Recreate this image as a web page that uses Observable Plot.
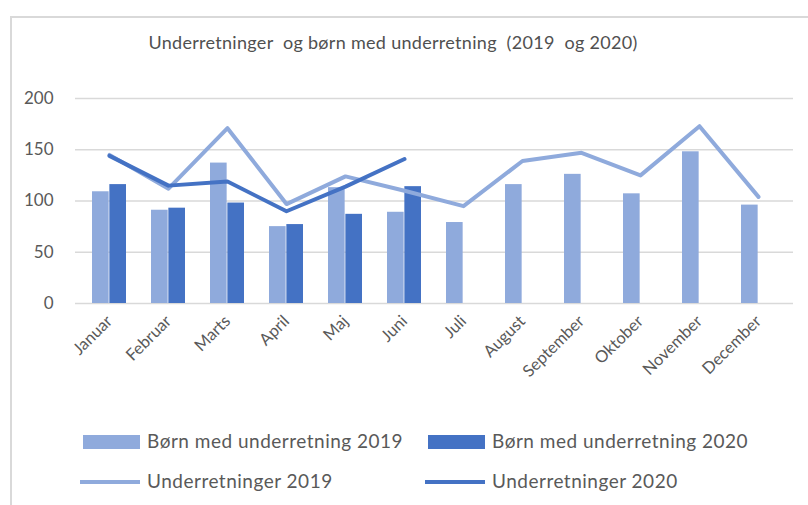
<!DOCTYPE html>
<html>
<head>
<meta charset="utf-8">
<script src="https://cdn.jsdelivr.net/npm/d3@7"></script>
<script src="https://cdn.jsdelivr.net/npm/@observablehq/plot@0.6"></script>
<style>
  body { margin: 0; background: #fff; }
  #wrap { position: relative; width: 808px; height: 505px; overflow: hidden; font-family: Lato, "Open Sans", sans-serif; color: #595959; }
  #frame { position: absolute; left: 10px; top: 16px; width: 820px; height: 520px; border-top: 2px solid #d9d9d9; border-left: 2px solid #d9d9d9; }
  #title { position: absolute; left: 0; width: 786px; top: 31px; text-align: center; font-size: 18px; letter-spacing: 0.3px; color: #505050; }
  #chart { position: absolute; left: 0; top: 0; }
  .leg { position: absolute; font-size: 19px; letter-spacing: 0.5px; line-height: 20px; white-space: nowrap; }
  .sw { position: absolute; }
</style>
</head>
<body>
<div id="wrap">
  <div id="frame"></div>
  <div id="title">Underretninger&nbsp; og børn med underretning&nbsp; (2019&nbsp; og 2020)</div>
  <div id="chart"></div>
  <div id="legend"></div>
</div>
<script>
const months = ["Januar","Februar","Marts","April","Maj","Juni","Juli","August","September","Oktober","November","December"];
const born2019 = [109, 91, 137, 75, 113, 89, 79, 116, 126, 107, 148, 96];
const born2020 = [116, 93, 98, 77, 87, 114];
const und2019 = [145, 112, 171, 97, 124, 110, 95, 139, 147, 125, 173, 104];
const und2020 = [144, 115, 119, 90, 114, 141];
const yTicks = [0, 50, 100, 150, 200];
const seriesNames = ["Børn med underretning 2019", "Børn med underretning 2020", "Underretninger 2019", "Underretninger 2020"];
const colors = ["#8FAADC", "#4472C4"];

const rows = (vals) => vals.map((v, i) => ({month: months[i], value: v}));

const W = 808, H = 420, mL = 75, mR = 15, mT = 98, mB = 117;
const padInner = 0.42;
const bw = (W - mL - mR) / months.length * (1 - padInner);

const chart = Plot.plot({
  width: W, height: H,
  marginLeft: mL, marginRight: mR, marginTop: mT, marginBottom: mB,
  style: {fontFamily: "Lato, sans-serif", color: "#595959", background: "transparent"},
  x: {domain: months, paddingInner: padInner, paddingOuter: padInner / 2, label: null},
  y: {domain: [0, 200], label: null},
  marks: [
    Plot.ruleY(yTicks, {stroke: "#d9d9d9", strokeWidth: 1.5}),
    Plot.axisY({ticks: yTicks, tickSize: 0, tickPadding: 22, fontSize: 17, label: null, fill: "#595959"}),
    Plot.axisX({tickSize: 0, tickPadding: 15, tickRotate: -45, fontSize: 16.5, label: null, fill: "#595959"}),
    Plot.barY(rows(born2019), {x: "month", y: "value", fill: colors[0], insetRight: bw / 2}),
    Plot.barY(rows(born2020), {x: "month", y: "value", fill: colors[1], insetLeft: bw / 2}),
    Plot.lineY(rows(und2019), {x: "month", y: "value", stroke: colors[0], strokeWidth: 4, strokeLinejoin: "round"}),
    Plot.lineY(rows(und2020), {x: "month", y: "value", stroke: colors[1], strokeWidth: 4, strokeLinejoin: "round"})
  ]
});
document.getElementById("chart").appendChild(chart);

// legend
const legend = document.getElementById("legend");
const legendItems = [
  {name: seriesNames[0], color: colors[0], type: "bar", x: 83, y: 442},
  {name: seriesNames[1], color: colors[1], type: "bar", x: 428, y: 442},
  {name: seriesNames[2], color: colors[0], type: "line", x: 80, y: 482},
  {name: seriesNames[3], color: colors[1], type: "line", x: 425, y: 482}
];
for (const it of legendItems) {
  const sw = document.createElement("div");
  sw.className = "sw";
  sw.style.background = it.color;
  if (it.type === "bar") {
    sw.style.left = it.x + "px"; sw.style.width = "57px";
    sw.style.top = (it.y - 7) + "px"; sw.style.height = "14px";
  } else {
    sw.style.left = it.x + "px"; sw.style.width = "60px";
    sw.style.top = (it.y - 2) + "px"; sw.style.height = "4px";
  }
  legend.appendChild(sw);
  const t = document.createElement("div");
  t.className = "leg";
  t.textContent = it.name;
  t.style.left = (it.type === "bar" ? it.x + 64 : it.x + 67) + "px";
  t.style.top = (it.y - 11) + "px";
  legend.appendChild(t);
}
</script>
</body>
</html>
